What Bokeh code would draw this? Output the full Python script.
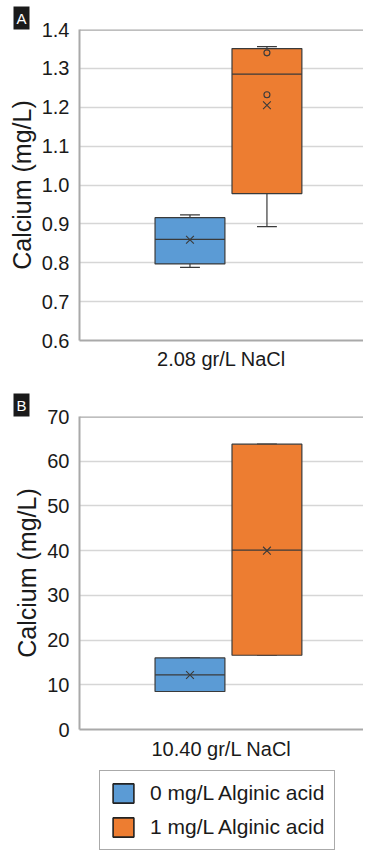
from bokeh.plotting import figure
from bokeh.models import (Range1d, FactorRange, FixedTicker, PrintfTickFormatter,
                          ColumnDataSource, Legend, LegendItem, Span)
from bokeh.transform import dodge
from bokeh.layouts import column
from bokeh.embed import file_html
from bokeh.resources import INLINE

# ---------------- data ----------------
series_names = ["0 mg/L Alginic acid", "1 mg/L Alginic acid"]
colors = ["#5B9BD5", "#ED7D31"]

cat_a = "2.08 gr/L NaCl"
a_lower = [0.788, 0.893]
a_q1 = [0.797, 0.978]
a_median = [0.860, 1.285]
a_q3 = [0.916, 1.351]
a_upper = [0.923, 1.356]
a_mean = [0.859, 1.205]
a_points_series = [1, 1]
a_points = [1.340, 1.232]
a_ticks = [0.6, 0.7, 0.8, 0.9, 1.0, 1.1, 1.2, 1.3, 1.4]

cat_b = "10.40 gr/L NaCl"
b_lower = [8.5, 16.6]
b_q1 = [8.5, 16.6]
b_median = [12.2, 40.1]
b_q3 = [16.0, 63.8]
b_upper = [16.0, 63.8]
b_mean = [12.2, 40.0]
b_ticks = [0, 10, 20, 30, 40, 50, 60, 70]

# ---------------- style ----------------
FONT = "Liberation Sans"
LEFT = 79
FRAME_W = 284
OFFSETS = [-0.111, 0.160]
BOX_W = 0.246
CAP = 0.035
EDGE = "#3a3a3a"
AXIS_C = "#a9a9a9"
TEXT_C = "#1a1a1a"


def make_panel(cat, lower, q1, med, q3, upper, mean, ticks, yr, fmt, letter,
               frame_h, top, bottom, xstand, pts_series=None, pts=None):
    p = figure(x_range=FactorRange(cat), y_range=Range1d(*yr),
               frame_width=FRAME_W, frame_height=frame_h,
               min_border_left=LEFT, min_border_right=0,
               min_border_top=top, min_border_bottom=bottom,
               title=letter,
               output_backend="svg", toolbar_location=None)
    p.outline_line_color = None
    p.background_fill_color = "white"
    p.border_fill_color = "white"
    p.xgrid.grid_line_color = None
    p.ygrid.grid_line_color = "#d6d6d6"
    p.ygrid.grid_line_width = 1.5
    p.yaxis.ticker = FixedTicker(ticks=ticks)
    p.yaxis.formatter = PrintfTickFormatter(format=fmt)
    for ax in (p.xaxis, p.yaxis):
        ax.axis_line_color = AXIS_C
        ax.axis_line_width = 2
        ax.major_tick_line_color = None
        ax.minor_tick_line_color = None
        ax.major_label_text_font = FONT
        ax.major_label_text_font_size = "20px"
        ax.major_label_text_color = TEXT_C
    p.xaxis.major_label_standoff = xstand
    p.yaxis.major_label_standoff = 4
    p.yaxis.axis_label = "Calcium (mg/L)"
    p.yaxis.axis_label_text_font = FONT
    p.yaxis.axis_label_text_font_size = "25px"
    p.yaxis.axis_label_text_font_style = "normal"
    p.yaxis.axis_label_text_color = TEXT_C
    p.yaxis.axis_label_standoff = 3

    # darker border line along the top of the plot area
    p.add_layout(Span(location=yr[1], dimension="width", line_color=AXIS_C, line_width=2.5))

    # panel letter (A / B) as a boxed title at the top-left
    t = p.title
    t.align = "left"
    t.offset = -(LEFT - 13)
    t.standoff = 0
    t.text_font = FONT
    t.text_font_size = "15px"
    t.text_font_style = "normal"
    t.text_color = "white"
    t.background_fill_color = "#1a1a1a"
    t.padding = 3

    renderers = []
    for i in range(2):
        src = ColumnDataSource(dict(cat=[cat], lo=[lower[i]], q1=[q1[i]], med=[med[i]],
                                    q3=[q3[i]], up=[upper[i]], mean=[mean[i]]))
        off = OFFSETS[i]
        xc = dodge("cat", off, range=p.x_range)
        xl = dodge("cat", off - CAP, range=p.x_range)
        xr = dodge("cat", off + CAP, range=p.x_range)
        p.segment(x0=xc, y0="q3", x1=xc, y1="up", source=src, line_color=EDGE, line_width=1.2)
        p.segment(x0=xc, y0="q1", x1=xc, y1="lo", source=src, line_color=EDGE, line_width=1.2)
        p.segment(x0=xl, y0="up", x1=xr, y1="up", source=src, line_color=EDGE, line_width=1.2)
        p.segment(x0=xl, y0="lo", x1=xr, y1="lo", source=src, line_color=EDGE, line_width=1.2)
        r = p.vbar(x=xc, bottom="q1", top="q3", width=BOX_W, source=src,
                   fill_color=colors[i], line_color=EDGE, line_width=1.2)
        renderers.append(r)
        xbl = dodge("cat", off - BOX_W / 2, range=p.x_range)
        xbr = dodge("cat", off + BOX_W / 2, range=p.x_range)
        p.segment(x0=xbl, y0="med", x1=xbr, y1="med", source=src, line_color=EDGE, line_width=1.2)
        p.scatter(x=xc, y="mean", source=src, marker="x", size=11,
                  line_color=EDGE, line_width=1.1)
        if pts is not None:
            vals = [v for s, v in zip(pts_series, pts) if s == i]
            if vals:
                psrc = ColumnDataSource(dict(cat=[cat] * len(vals), v=vals))
                p.scatter(x=dodge("cat", off, range=p.x_range), y="v", source=psrc,
                          marker="circle", size=6, fill_color=None,
                          line_color=EDGE, line_width=1.1)
    return p, renderers


pa, ra = make_panel(cat_a, a_lower, a_q1, a_median, a_q3, a_upper, a_mean, a_ticks,
                    (0.6, 1.4), "%.1f", "A", 311, 29, 37, 1, a_points_series, a_points)
pb, rb = make_panel(cat_b, b_lower, b_q1, b_median, b_q3, b_upper, b_mean, b_ticks,
                    (0, 70), "%d", "B", 313, 39, 36, 2)

# legend in its own full-width figure below panel B; its swatch renderers carry
# panel B's box data but are hidden, so only the legend entries are drawn
LEG_W = LEFT + FRAME_W
pl = figure(x_range=FactorRange(cat_b), y_range=Range1d(0, 1),
            frame_width=LEG_W, frame_height=86, min_border_left=0, min_border_right=0,
            min_border_top=0, min_border_bottom=0,
            x_axis_location=None, y_axis_location=None,
            output_backend="svg", toolbar_location=None)
pl.grid.visible = False
pl.outline_line_color = None
pl.border_fill_color = "white"
pl.background_fill_color = "white"
swatches = []
for i in range(2):
    lsrc = ColumnDataSource(dict(cat=[cat_b], q1=[b_q1[i]], q3=[b_q3[i]]))
    sw = pl.vbar(x="cat", bottom="q1", top="q3", width=0.2, source=lsrc,
                 fill_color=colors[i], line_color="#222222", line_width=1.6)
    sw.visible = False
    swatches.append(sw)
legend = Legend(items=[LegendItem(label=series_names[i], renderers=[swatches[i]]) for i in range(2)],
                location=(99, 1), orientation="vertical", click_policy="none")
legend.label_text_font = FONT
legend.label_text_font_size = "21px"
legend.label_text_color = TEXT_C
legend.glyph_width = 26
legend.glyph_height = 24
legend.label_height = 24
legend.spacing = 10
legend.padding = 10
legend.label_standoff = 14
legend.margin = 0
legend.border_line_color = "#555555"
legend.border_line_width = 1.5
legend.background_fill_color = "white"
pl.add_layout(legend, "center")

layout = column(pa, pb, pl, spacing=0)
open("out.html", "w").write(file_html(layout, INLINE))
